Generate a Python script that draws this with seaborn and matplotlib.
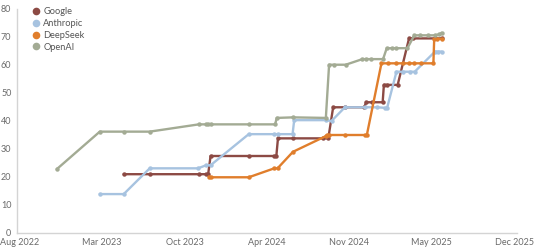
import numpy as np
import pandas as pd
import matplotlib
matplotlib.use("Agg")
import matplotlib.pyplot as plt
import seaborn as sns
from matplotlib.lines import Line2D

labs = ["Google", "Anthropic", "DeepSeek", "OpenAI"]
lab_colors = ["#8c4a44", "#a7c3e0", "#e07e2c", "#a3ab94"]

google_dates = ["2023-04-14", "2023-06-17", "2023-10-16", "2023-11-03", "2023-11-08",
                "2023-11-14", "2024-02-16", "2024-04-19", "2024-04-24", "2024-04-28",
                "2024-06-04", "2024-08-17", "2024-08-30", "2024-09-11", "2024-10-10",
                "2024-11-27", "2024-12-01", "2024-12-15", "2025-01-11", "2025-01-14",
                "2025-01-21", "2025-02-17", "2025-03-17", "2025-03-27", "2025-05-20",
                "2025-06-05"]
google_scores = [21.0, 21.0, 21.0, 21.0, 21.0,
                 27.5, 27.5, 27.5, 27.5, 33.8,
                 33.8, 33.8, 33.8, 44.9, 44.9,
                 44.9, 46.7, 46.7, 46.7, 52.9,
                 52.9, 52.9, 69.5, 69.5, 69.5,
                 69.5]

anthropic_dates = ["2023-02-14", "2023-04-14", "2023-06-17", "2023-10-14", "2023-11-03",
                   "2023-11-14", "2024-02-16", "2024-04-19", "2024-04-27", "2024-06-03",
                   "2024-06-07", "2024-08-24", "2024-09-07", "2024-10-10", "2024-11-29",
                   "2024-12-28", "2025-01-17", "2025-01-22", "2025-02-14", "2025-03-03",
                   "2025-03-19", "2025-03-31", "2025-05-20", "2025-05-28", "2025-06-05"]
anthropic_scores = [13.9, 13.9, 23.1, 23.1, 24.2,
                    24.2, 35.3, 35.3, 35.3, 35.3,
                    40.3, 40.3, 40.0, 44.9, 44.9,
                    44.9, 44.7, 44.7, 57.6, 57.6,
                    57.6, 57.6, 64.8, 64.8, 64.8]

deepseek_dates = ["2023-11-10", "2023-11-14", "2024-02-16", "2024-04-19", "2024-04-27",
                  "2024-06-04", "2024-08-24", "2024-08-28", "2024-09-01", "2024-10-10",
                  "2024-11-29", "2024-12-03", "2025-01-08", "2025-01-25", "2025-02-14",
                  "2025-03-03", "2025-03-17", "2025-03-29", "2025-04-15", "2025-05-16",
                  "2025-05-18", "2025-05-24", "2025-06-05"]
deepseek_scores = [20.1, 19.9, 19.9, 23.1, 23.1,
                   29.0, 34.6, 35.0, 35.0, 35.0,
                   35.0, 35.0, 60.6, 60.6, 60.6,
                   60.6, 60.6, 60.6, 60.6, 60.6,
                   69.3, 69.3, 69.3]

openai_dates = ["2022-10-31", "2023-02-14", "2023-04-14", "2023-06-17", "2023-10-16",
                "2023-11-03", "2023-11-07", "2023-11-14", "2024-02-16", "2024-04-21",
                "2024-04-25", "2024-06-04", "2024-08-24", "2024-09-01", "2024-09-12",
                "2024-10-12", "2024-11-22", "2024-12-02", "2024-12-13", "2025-01-12",
                "2025-01-21", "2025-02-02", "2025-02-14", "2025-03-13", "2025-03-30",
                "2025-04-13", "2025-05-03", "2025-05-20", "2025-05-31", "2025-06-05"]
openai_scores = [22.8, 36.2, 36.2, 36.2, 38.8,
                 38.8, 38.8, 38.8, 38.8, 38.8,
                 41.1, 41.3, 41.1, 60.1, 60.1,
                 60.1, 62.1, 62.1, 62.1, 62.1,
                 66.0, 66.0, 66.0, 66.0, 70.6,
                 70.6, 70.6, 70.6, 71.0, 71.5]

x_tick_labels = ["Aug 2022", "Mar 2023", "Oct 2023", "Apr 2024",
                 "Nov 2024", "May 2025", "Dec 2025"]
y_ticks = [0, 10, 20, 30, 40, 50, 60, 70, 80]

frames = []
for lab, d, s in zip(labs,
                     [google_dates, anthropic_dates, deepseek_dates, openai_dates],
                     [google_scores, anthropic_scores, deepseek_scores, openai_scores]):
    frames.append(pd.DataFrame({"date": pd.to_datetime(d), "score": s, "lab": lab}))
df = pd.concat(frames, ignore_index=True)

sns.set_theme(style="white")
plt.rcParams['font.family'] = ['Lato', 'DejaVu Sans']

fig = plt.figure(figsize=(5.34, 2.5), dpi=100)
ax = fig.add_axes([17 / 534, 17 / 250, 500 / 534, 224 / 250])

palette = dict(zip(labs, lab_colors))
sns.lineplot(data=df, x="date", y="score", hue="lab", hue_order=labs,
             palette=palette, estimator=None, sort=False,
             marker="o", markersize=3.2, markeredgewidth=0,
             linewidth=1.7, ax=ax, legend=False)

start = pd.Timestamp("2022-08-01")
end = pd.Timestamp("2025-12-01")
ticks = [start + (end - start) * i / 6 for i in range(7)]
ax.set_xlim(start - pd.Timedelta(days=7), end + pd.Timedelta(days=7))
ax.set_xticks(ticks)
ax.set_xticklabels(x_tick_labels)
ax.set_ylim(0, 80)
ax.set_yticks(y_ticks)
ax.set_xlabel("")
ax.set_ylabel("")

for side in ["top", "right"]:
    ax.spines[side].set_visible(False)
for side in ["left", "bottom"]:
    ax.spines[side].set_color("#d4d4d4")
    ax.spines[side].set_linewidth(1.0)
ax.tick_params(axis="both", length=0, labelsize=6.5, colors="#6a6a6a")
ax.tick_params(axis="y", pad=4)
ax.tick_params(axis="x", pad=3.5)

handles = [Line2D([0], [0], marker="o", linestyle="", markersize=5.5,
                  markerfacecolor=c, markeredgewidth=0) for c in lab_colors]
leg = ax.legend(handles, labs, loc="upper left", bbox_to_anchor=(0.025, 1.024),
                frameon=False, fontsize=6.7, handlelength=0.6, handletextpad=0.5,
                labelspacing=0.3, borderaxespad=0.0)
for t in leg.get_texts():
    t.set_color("#555555")

fig.savefig("out.png", dpi=100)
